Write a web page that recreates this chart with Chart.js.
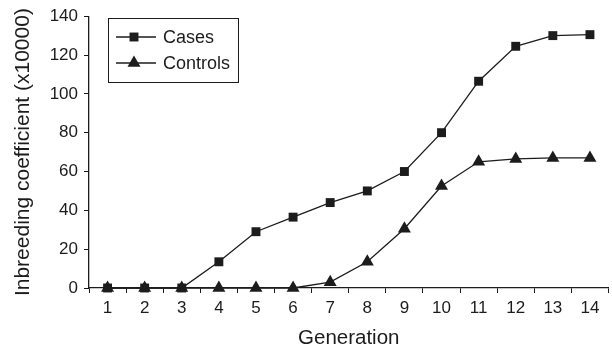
<!DOCTYPE html>
<html>
<head>
<meta charset="utf-8">
<script src="https://cdn.jsdelivr.net/npm/chart.js@4"></script>
<style>
  html, body { margin: 0; padding: 0; background: #fff; overflow: hidden; }
  #wrap { position: relative; width: 616px; height: 349px; }
</style>
</head>
<body>
<div id="wrap"><canvas id="inbreeding"></canvas></div>
<script>
// data
const generations = ['1', '2', '3', '4', '5', '6', '7', '8', '9', '10', '11', '12', '13', '14'];
const casesValues = [0, 0, 0, 13.5, 29, 36.5, 44, 50, 60, 80, 106.5, 124.5, 130, 130.5];
const controlsValues = [0, 0, 0, 0, 0, 0, 3, 13.5, 30.5, 52.5, 65, 66.5, 67, 67];
const yTicks = [0, 20, 40, 60, 80, 100, 120, 140];

const INK = '#1c1c1c';
const FONT = "'Liberation Sans', Arial, sans-serif";

// legend with line + marker sample, inside a box (top left)
const boxLegend = {
  id: 'boxLegend',
  afterDraw(chart) {
    const ctx = chart.ctx;
    const x0 = 108, y0 = 18, w = 130, h = 64;
    ctx.save();
    ctx.strokeStyle = INK;
    ctx.lineWidth = 1;
    ctx.strokeRect(x0 + 0.5, y0 + 0.5, w, h);
    chart.data.datasets.forEach((ds, i) => {
      const y = y0 + 19 + i * 26;
      ctx.strokeStyle = ds.borderColor;
      ctx.lineWidth = ds.borderWidth;
      ctx.beginPath();
      ctx.moveTo(116, y);
      ctx.lineTo(156, y);
      ctx.stroke();
      ctx.fillStyle = ds.pointBackgroundColor;
      Chart.helpers.drawPoint(ctx, {
        pointStyle: ds.pointStyle,
        radius: ds.pointRadius,
        borderWidth: 0,
        rotation: 0
      }, 134, y);
      ctx.fillStyle = INK;
      ctx.font = '18px ' + FONT;
      ctx.textBaseline = 'middle';
      ctx.fillText(ds.label, 163, y + 1);
    });
    ctx.restore();
  }
};

new Chart(document.getElementById('inbreeding'), {
  type: 'line',
  data: {
    labels: generations,
    datasets: [
      {
        label: 'Cases',
        data: casesValues,
        order: 1,
        clip: false,
        borderColor: INK,
        borderWidth: 1.3,
        pointStyle: 'rect',
        pointRadius: 6.3,
        pointBackgroundColor: INK,
        pointBorderWidth: 0,
        tension: 0
      },
      {
        label: 'Controls',
        data: controlsValues,
        order: 0,
        clip: false,
        borderColor: INK,
        borderWidth: 1.3,
        pointStyle: 'triangle',
        pointRadius: 7.5,
        pointBackgroundColor: INK,
        pointBorderWidth: 0,
        tension: 0
      }
    ]
  },
  options: {
    responsive: true,
    maintainAspectRatio: false,
    animation: false,
    layout: { padding: { top: 16, right: 0, left: 0, bottom: 0 } },
    plugins: {
      legend: { display: false },
      tooltip: { enabled: false }
    },
    scales: {
      x: {
        offset: true,
        grid: { offset: true, drawOnChartArea: false, color: INK, tickLength: 5 },
        border: { color: INK, width: 1.3 },
        ticks: { color: INK, font: { size: 17, family: FONT }, padding: 5, maxRotation: 0 },
        title: { display: true, text: 'Generation', color: INK, font: { size: 20.5, family: FONT, lineHeight: 1 }, padding: { top: 0, bottom: 0 } },
        afterFit(scale) { scale.height = 61; }
      },
      y: {
        min: 0,
        max: 140,
        afterBuildTicks(scale) { scale.ticks = yTicks.map(v => ({ value: v })); },
        grid: { drawOnChartArea: false, color: INK, tickLength: 5 },
        border: { color: INK, width: 1.3 },
        ticks: { color: INK, font: { size: 17, family: FONT }, padding: 6 },
        title: { display: true, text: 'Inbreeding coefficient (x10000)', color: INK, font: { size: 21, family: FONT, lineHeight: 1 }, padding: { top: 13, bottom: 0 } },
        afterFit(scale) { scale.width = 89; }
      }
    }
  },
  plugins: [boxLegend]
});
</script>
</body>
</html>
